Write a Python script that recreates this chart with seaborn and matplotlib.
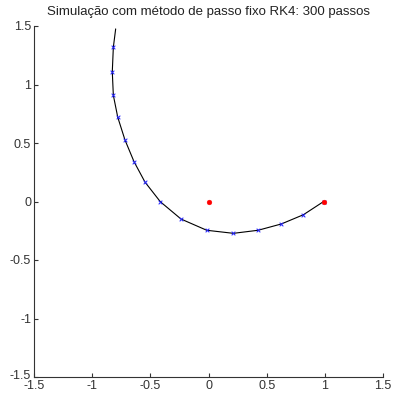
import matplotlib
matplotlib.use("Agg")
import matplotlib.pyplot as plt
import matplotlib.transforms as mtransforms
import seaborn as sns
import pandas as pd

sns.set_style("white")
plt.rcParams['font.family'] = ['Liberation Sans', 'DejaVu Sans']

# Trajectory points (start at (1,0))
traj_x = [0.99, 0.816, 0.626, 0.426, 0.214, -0.015, -0.236, -0.414, -0.546,
          -0.64, -0.718, -0.78, -0.818, -0.827, -0.818, -0.798]
traj_y = [0.0, -0.113, -0.192, -0.246, -0.272, -0.246, -0.150, -0.002, 0.166,
          0.34, 0.526, 0.72, 0.908, 1.109, 1.318, 1.475]
# Sampled step markers (every N steps)
mark_x = traj_x[:-1]
mark_y = traj_y[:-1]
# Red bodies
body_x = [0.0, 0.99]
body_y = [0.0, 0.0]

ticks = [-1.5, -1, -0.5, 0, 0.5, 1, 1.5]
tick_labels = ["-1.5", "-1", "-0.5", "0", "0.5", "1", "1.5"]
title = "Simulação com método de passo fixo RK4: 300 passos"

df = pd.DataFrame({"x": traj_x, "y": traj_y})

fig = plt.figure(figsize=(3.95, 3.97), dpi=100)
ax = fig.add_axes([34/395, 1-377/397, 349/395, 351/397])

sns.lineplot(data=df, x="x", y="y", sort=False, estimator=None, color="black",
             linewidth=0.8, ax=ax)
sns.scatterplot(x=mark_x, y=mark_y, marker="x", s=7, color="#2020ff",
                linewidth=0.7, ax=ax, zorder=3)
sns.scatterplot(x=body_x, y=body_y, marker="o", s=12, color="#ff0000",
                edgecolor="#ff0000", ax=ax, zorder=4)

ax.set_xlim(-1.5, 1.5)
ax.set_ylim(-1.5, 1.5)
ax.set_xticks(ticks)
ax.set_xticklabels(tick_labels)
ax.set_yticks(ticks)
ax.set_yticklabels(tick_labels)
ax.set_xlabel("")
ax.set_ylabel("")
for s in ["top", "right"]:
    ax.spines[s].set_visible(False)
for s in ["left", "bottom"]:
    ax.spines[s].set_color("#333333")
    ax.spines[s].set_linewidth(0.8)
ax.tick_params(direction="in", length=3, width=0.8, labelsize=9, pad=2,
               colors="#333333", left=True, bottom=True)
ax.set_title(title, fontsize=9.5, pad=8, color="#222222")

# nudge the lowest y label up slightly to limit overlap with the x label
lab = ax.get_yticklabels()[0]
lab.set_transform(lab.get_transform() + mtransforms.ScaledTranslation(0, 2/72, fig.dpi_scale_trans))

fig.savefig("out.png", dpi=100)
